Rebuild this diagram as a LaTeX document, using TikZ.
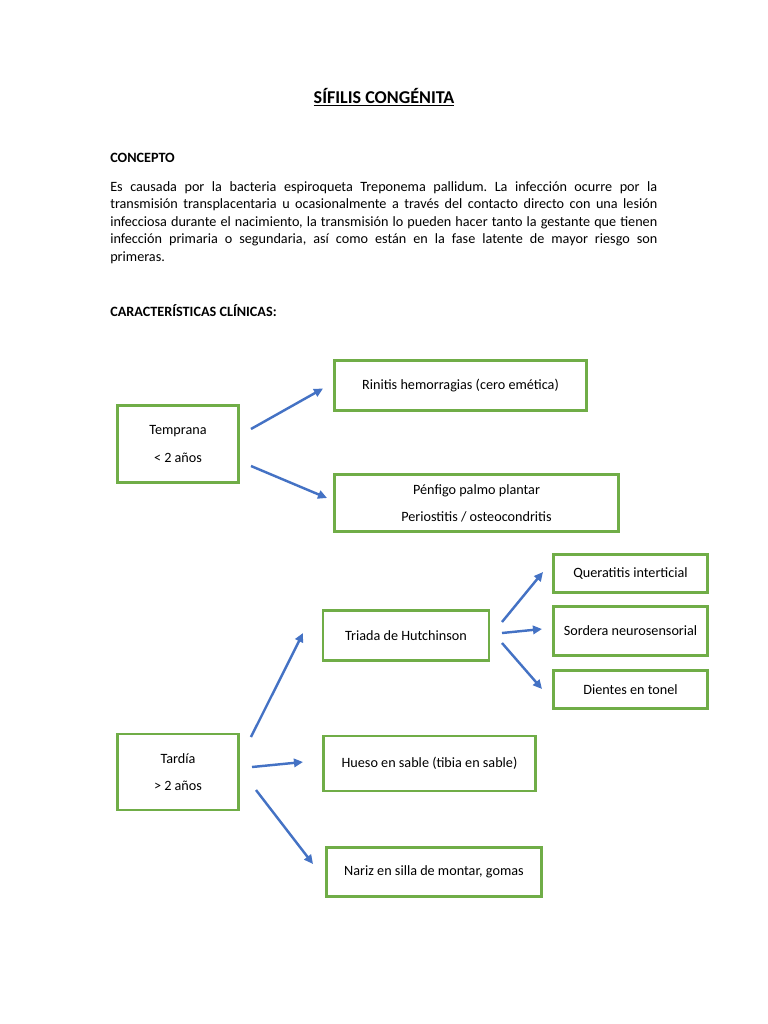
\documentclass[tikz,border=0pt]{standalone}
\usepackage{fontspec}
\setmainfont{Carlito}
\usetikzlibrary{arrows.meta,calc}
\definecolor{boxgreen}{HTML}{70AD47}
\definecolor{arrowblue}{HTML}{4472C4}
\frenchspacing

\begin{document}
\begin{tikzpicture}[
    x=0.775pt, y=-0.775pt,
    heading/.style={font=\fontsize{11}{13}\selectfont\bfseries, inner sep=0pt, anchor=base west},
    box/.style 2 args={draw=boxgreen, line width=2.3pt, rectangle, align=center, minimum width=#1*0.775pt, minimum height=#2*0.775pt, inner sep=0pt, font=\fontsize{11}{21}\selectfont},
    arrow/.style={-{Triangle[length=7pt, width=6.5pt]}, draw=arrowblue, line width=1.9pt}
  ]
    \useasboundingbox (0,0) rectangle (768,1024);

    % title and text
    \node (titulo) [font=\fontsize{14}{17}\selectfont\bfseries, inner sep=0pt, anchor=base] at (384,103) {\underline{SÍFILIS CONGÉNITA}};
    \node (concepto) [heading] at (110,162) {CONCEPTO};
    \node (texto) [inner sep=0pt, anchor=base west, text width=424pt, align=justify, font=\fontsize{11}{13.6}\selectfont] at (110,191)
      {Es causada por la bacteria espiroqueta Treponema pallidum. La infección ocurre por la\linebreak
       transmisión transplacentaria u ocasionalmente a través del contacto directo con una lesión\linebreak
       infecciosa durante el nacimiento, la transmisión lo pueden hacer tanto la gestante que tienen\linebreak
       infección primaria o segundaria, así como están en la fase latente de mayor riesgo son\linebreak
       primeras.};
    \node (clinicas) [heading] at (110,316) {CARACTERÍSTICAS CLÍNICAS:};

    % boxes
    \node (temprana) [box={121}{77}] at (178,444) {Temprana\\< 2 años};
    \node (rinitis) [box={252}{50}] at (460.5,385.5) {Rinitis hemorragias (cero emética)};
    \node (penfigo) [box={284}{57}] at (476.5,503) {Pénfigo palmo plantar\\Periostitis / osteocondritis};
    \node (triada) [box={166}{50}] at (406,635.5) {Triada de Hutchinson};
    \node (queratitis) [box={154}{38}] at (630.5,573.5) {Queratitis interticial};
    \node (sordera) [box={154}{49}] at (630.5,631) {Sordera neurosensorial};
    \node (dientes) [box={154}{38}] at (630.5,689.5) {Dientes en tonel};
    \node (tardia) [box={121}{76}] at (178,772) {Tardía\\> 2 años};
    \node (hueso) [box={212}{55}] at (429.5,763.5) {Hueso en sable (tibia en sable)};
    \node (nariz) [box={215}{49}] at (434,872) {Nariz en silla de montar, gomas};

    % arrows
    \draw [arrow] ($(temprana.east)+(11,-15)$) -- ($(rinitis.west)+(-10,3)$);
    \draw [arrow] ($(temprana.east)+(11,22)$) -- ($(penfigo.west)+(-6,-5)$);
    \draw [arrow] ($(triada.east)+(11.5,-13.5)$) -- ($(queratitis.west)+(-9,-1.5)$);
    \draw [arrow] ($(triada.east)+(11.5,-2.5)$) -- ($(sordera.west)+(-10,-2)$);
    \draw [arrow] ($(triada.east)+(11.5,7.5)$) -- ($(dientes.west)+(-10,-0.5)$);
    \draw [arrow] ($(tardia.east)+(11,-35)$) -- ($(triada.west)+(-18.5,-2.5)$);
    \draw [arrow] ($(tardia.east)+(12,-5)$) -- ($(hueso.west)+(-19,-1.5)$);
    \draw [arrow] ($(tardia.east)+(16,18)$) -- ($(nariz.west)+(-12,-8)$);
  \end{tikzpicture}
\end{document}
